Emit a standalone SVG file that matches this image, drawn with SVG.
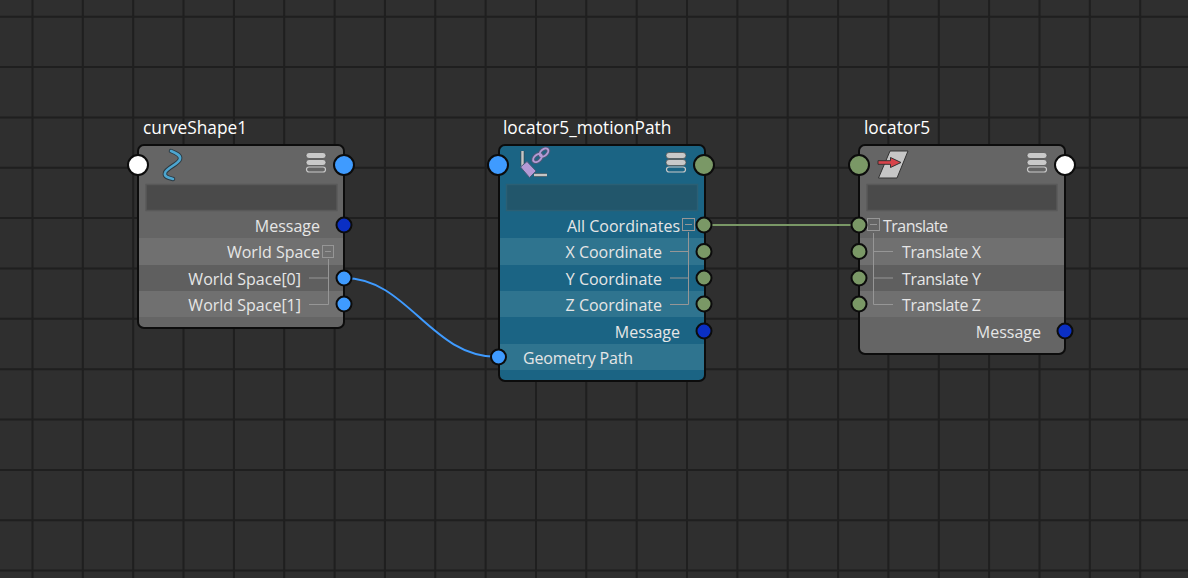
<svg xmlns="http://www.w3.org/2000/svg" width="1188" height="578" viewBox="0 0 1188 578">
<style>
.g{stroke:#1f1f1f;stroke-width:2;fill:none}
.body{stroke:#0c0c0c;stroke-width:2}
.grey{fill:#656565}.teal{fill:#1b6484}
.bg{fill:#707070}.bd{fill:#5f5f5f}.bt{fill:#2f748f}
.fg{fill:#4a4a4a;stroke:#595959;stroke-width:1.5}.ft{fill:#22566b;stroke:#2b5f74;stroke-width:1.5}
text{font-family:"Open Sans","Noto Sans",sans-serif;font-size:16px;fill:#e6e6e6}
.t{font-size:17.3px;fill:#fff}
.e{text-anchor:end}
.p{stroke:#0c0c0c;stroke-width:2}
.w{fill:#fff}.b{fill:#3f9bff}.gn{fill:#7a9866}.m{fill:#0a2fc4}
.tree{stroke:#969696;stroke-width:1;fill:none}
.box{stroke:#969696;stroke-width:1;fill:none}
.st{fill:#c9c9c9;stroke:#4a4a4a;stroke-width:.7}
.so{fill:none;stroke:#c9c9c9;stroke-width:1.2}
</style>
<defs>
<g id="stack"><rect class="st" x="0" y="0" width="20" height="6" rx="3"/><rect class="st" x="0" y="7" width="20" height="6" rx="3"/><rect class="so" x="0.5" y="14.5" width="19" height="5" rx="2.5"/></g>
</defs>
<rect width="1188" height="578" fill="#2f2f2f"/>
<g id="grid">
<path class="g" d="M32.5 0V578M82.8 0V578M133.2 0V578M183.5 0V578M233.9 0V578M284.2 0V578M334.6 0V578M384.9 0V578M435.3 0V578M485.6 0V578M536 0V578M586.3 0V578M636.7 0V578M687 0V578M737.4 0V578M787.7 0V578M838.1 0V578M888.4 0V578M938.8 0V578M989.1 0V578M1039.5 0V578M1089.8 0V578M1140.2 0V578"/>
<path class="g" d="M0 16.7H1188M0 67.1H1188M0 117.4H1188M0 167.8H1188M0 218.1H1188M0 268.5H1188M0 318.8H1188M0 369.2H1188M0 419.5H1188M0 469.9H1188M0 520.2H1188M0 570.6H1188"/>
</g>
<g id="connectors">
<path d="M344 278C408 278 430 357 498 357" fill="none" stroke="#3f9bff" stroke-width="2"/>
<path d="M705 225H859" fill="none" stroke="#7a9866" stroke-width="2"/>
</g>
<g id="curveShape1">
<text class="t" x="143" y="134">curveShape1</text>
<rect class="body grey" x="138" y="145" width="206" height="183" rx="6"/>
<rect class="bg" x="139" y="238" width="204" height="27"/><rect class="bd" x="139" y="265" width="204" height="26"/><rect class="bg" x="139" y="291" width="204" height="26"/>
<rect class="fg" x="146" y="184.500" width="191" height="26"/>
<path d="M171 151C176 153 181 155 180 159C179 164 166 168 165 173C164 177 169 178 173 179" fill="none" stroke="#2c3a42" stroke-width="4.500" stroke-linecap="round"/>
<path d="M171 151C176 153 181 155 180 159C179 164 166 168 165 173C164 177 169 178 173 179" fill="none" stroke="#4da6d0" stroke-width="2.600" stroke-linecap="round"/>
<use href="#stack" x="306" y="152.500"/>
<text class="e" x="320" y="232">Message</text>
<text class="e" x="320" y="258">World Space</text>
<text class="e" x="301" y="285">World Space[0]</text>
<text class="e" x="301" y="311">World Space[1]</text>
<rect class="box" x="322.500" y="245.500" width="11" height="12"/><path class="tree" d="M325 251.500H331M328.500 259V304.500H309M328.500 278H309"/>
<circle class="p w" cx="138" cy="165" r="10"/><circle class="p b" cx="344" cy="165" r="10"/>
<circle class="p m" cx="344" cy="225" r="7.500"/><circle class="p b" cx="344" cy="278" r="7.500"/><circle class="p b" cx="344" cy="304" r="7.500"/>
</g>
<g id="locator5_motionPath">
<text class="t" x="503" y="134">locator5_motionPath</text>
<rect class="body teal" x="499" y="145" width="206" height="236" rx="6"/>
<rect class="bt" x="500" y="238" width="204" height="27"/><rect class="bt" x="500" y="291" width="204" height="26"/><rect class="bt" x="500" y="344" width="204" height="26"/>
<rect class="ft" x="506.500" y="184.500" width="191" height="26"/>
<path d="M522.500 151V166M534 175H547" fill="none" stroke="#2c4a58" stroke-width="4"/><path d="M522.500 151V166M534 175H547" fill="none" stroke="#c5c5c5" stroke-width="2.400"/>
<path d="M520.500 167L527 161.500L536 171L529.500 177.500Z" fill="#b49ad6" stroke="#4c5a78" stroke-width="1"/>
<g fill="none" stroke-linecap="round"><g stroke="#4c5a78" stroke-width="4"><ellipse cx="537.500" cy="158" rx="5" ry="3.200" transform="rotate(-42 537.500 158)"/><ellipse cx="544" cy="152.500" rx="5" ry="3.200" transform="rotate(-42 544 152.500)"/></g><g stroke="#b49ad6" stroke-width="2"><ellipse cx="537.500" cy="158" rx="5" ry="3.200" transform="rotate(-42 537.500 158)"/><ellipse cx="544" cy="152.500" rx="5" ry="3.200" transform="rotate(-42 544 152.500)"/></g></g>
<use href="#stack" x="666" y="152.500"/>
<text class="e" x="680" y="232">All Coordinates</text>
<text class="e" x="662" y="258">X Coordinate</text>
<text class="e" x="662" y="285">Y Coordinate</text>
<text class="e" x="662" y="311">Z Coordinate</text>
<text class="e" x="680" y="338">Message</text>
<text x="523" y="364" textLength="110">Geometry Path</text>
<rect class="box" x="682.500" y="218.500" width="12" height="12"/><path class="tree" d="M685 224.500H692M688.500 232V304.500H670M688.500 251.500H670M688.500 278H670"/>
<circle class="p b" cx="498" cy="165" r="10"/><circle class="p gn" cx="704" cy="165" r="10"/>
<circle class="p gn" cx="704" cy="225" r="7.500"/><circle class="p gn" cx="704" cy="251.500" r="7.500"/><circle class="p gn" cx="704" cy="278" r="7.500"/><circle class="p gn" cx="704" cy="304" r="7.500"/><circle class="p m" cx="704" cy="331" r="7.500"/><circle class="p b" cx="498.500" cy="357" r="7.500"/>
</g>
<g id="locator5">
<text class="t" x="864" y="134">locator5</text>
<rect class="body grey" x="859" y="145" width="206" height="209" rx="6"/>
<rect class="bg" x="860" y="238" width="204" height="27"/><rect class="bd" x="860" y="265" width="204" height="26"/><rect class="bg" x="860" y="291" width="204" height="26"/>
<rect class="fg" x="867" y="184.500" width="190" height="26"/>
<path d="M890 151H908L897 178H878.500Z" fill="#c6c6c6" stroke="#333" stroke-width="1"/>
<path d="M878 160.700H890.500V157.500L901 162.500L890.500 167.500V164.300H878Z" fill="#d8434a" stroke="#333" stroke-width="1"/>
<use href="#stack" x="1027" y="152.500"/>
<text x="883" y="232" textLength="65">Translate</text>
<text x="902" y="258" textLength="79">Translate X</text>
<text x="902" y="285" textLength="79">Translate Y</text>
<text x="902" y="311" textLength="79">Translate Z</text>
<text class="e" x="1041" y="338">Message</text>
<rect class="box" x="867.500" y="218.500" width="12" height="12"/><path class="tree" d="M870 224.500H877M873.500 233V304.500H893M873.500 251.500H893M873.500 278H893"/>
<circle class="p gn" cx="859" cy="165" r="10"/><circle class="p w" cx="1065" cy="165" r="10"/>
<circle class="p gn" cx="859" cy="225" r="7.500"/><circle class="p gn" cx="859" cy="251.500" r="7.500"/><circle class="p gn" cx="859" cy="278" r="7.500"/><circle class="p gn" cx="859" cy="304" r="7.500"/><circle class="p m" cx="1065" cy="331" r="7.500"/>
</g>
</svg>
